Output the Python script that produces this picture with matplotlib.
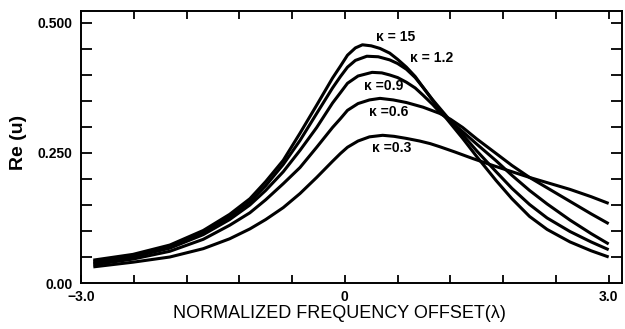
import numpy as np
import matplotlib.pyplot as plt
from matplotlib.ticker import FixedLocator, NullFormatter

plt.rcParams['font.family'] = ['Liberation Sans', 'DejaVu Sans']

# values, one pair of lists per kappa
x_k15 = [-2.86, -2.41, -1.99, -1.61, -1.31, -1.08, -0.90, -0.70, -0.51, -0.32, -0.14, -0.05, 0.03, 0.12, 0.20, 0.30, 0.40, 0.51, 0.60, 0.70, 0.80, 0.89, 1.00, 1.08, 1.20, 1.34, 1.50, 1.72, 1.90, 2.10, 2.30, 2.56, 2.80, 3.00]
y_k15 = [0.044, 0.055, 0.073, 0.101, 0.132, 0.162, 0.195, 0.236, 0.288, 0.342, 0.394, 0.417, 0.438, 0.452, 0.458, 0.456, 0.451, 0.442, 0.430, 0.415, 0.397, 0.376, 0.351, 0.332, 0.307, 0.278, 0.243, 0.197, 0.162, 0.128, 0.103, 0.079, 0.062, 0.050]

x_k12 = [-2.86, -2.41, -1.99, -1.61, -1.31, -1.08, -0.90, -0.70, -0.51, -0.32, -0.14, -0.05, 0.03, 0.12, 0.25, 0.38, 0.51, 0.60, 0.70, 0.80, 0.89, 1.00, 1.08, 1.20, 1.34, 1.50, 1.72, 1.90, 2.10, 2.30, 2.56, 2.80, 3.00]
y_k12 = [0.041, 0.052, 0.070, 0.097, 0.127, 0.156, 0.187, 0.228, 0.274, 0.326, 0.375, 0.397, 0.415, 0.428, 0.436, 0.435, 0.429, 0.422, 0.411, 0.395, 0.376, 0.352, 0.336, 0.312, 0.285, 0.254, 0.214, 0.182, 0.151, 0.125, 0.099, 0.079, 0.064]

x_k09 = [-2.86, -2.41, -1.99, -1.61, -1.31, -1.08, -0.90, -0.70, -0.51, -0.32, -0.14, -0.05, 0.03, 0.15, 0.31, 0.42, 0.51, 0.60, 0.70, 0.80, 0.89, 1.00, 1.08, 1.20, 1.34, 1.50, 1.72, 1.90, 2.10, 2.30, 2.56, 2.80, 3.00]
y_k09 = [0.038, 0.050, 0.067, 0.093, 0.122, 0.150, 0.178, 0.214, 0.255, 0.299, 0.346, 0.366, 0.384, 0.398, 0.405, 0.404, 0.400, 0.395, 0.386, 0.375, 0.361, 0.343, 0.328, 0.311, 0.291, 0.267, 0.235, 0.207, 0.178, 0.152, 0.121, 0.095, 0.075]

x_k06 = [-2.86, -2.41, -1.99, -1.61, -1.31, -1.08, -0.90, -0.70, -0.51, -0.32, -0.14, -0.05, 0.03, 0.15, 0.28, 0.40, 0.55, 0.70, 0.89, 1.08, 1.20, 1.34, 1.50, 1.72, 1.90, 2.10, 2.30, 2.56, 2.80, 3.00]
y_k06 = [0.035, 0.046, 0.061, 0.084, 0.111, 0.135, 0.160, 0.191, 0.222, 0.261, 0.299, 0.316, 0.332, 0.345, 0.352, 0.355, 0.352, 0.347, 0.338, 0.326, 0.315, 0.299, 0.277, 0.249, 0.226, 0.203, 0.183, 0.157, 0.133, 0.114]

x_k03 = [-2.86, -2.41, -1.99, -1.61, -1.31, -1.08, -0.90, -0.70, -0.51, -0.32, -0.14, -0.05, 0.03, 0.15, 0.28, 0.43, 0.56, 0.70, 0.85, 0.97, 1.08, 1.25, 1.46, 1.70, 1.90, 2.10, 2.30, 2.56, 2.80, 3.00]
y_k03 = [0.031, 0.040, 0.050, 0.066, 0.085, 0.104, 0.122, 0.145, 0.172, 0.203, 0.234, 0.249, 0.261, 0.273, 0.281, 0.284, 0.282, 0.278, 0.273, 0.268, 0.262, 0.252, 0.239, 0.225, 0.214, 0.203, 0.193, 0.180, 0.166, 0.153]

curves = [(x_k15, y_k15), (x_k12, y_k12), (x_k09, y_k09), (x_k06, y_k06), (x_k03, y_k03)]

labels = ['\u03ba = 15', '\u03ba = 1.2', '\u03ba =0.9', '\u03ba =0.6', '\u03ba =0.3']
label_x = [0.35, 0.74, 0.22, 0.28, 0.31]
label_y = [0.473, 0.432, 0.378, 0.329, 0.259]

xticks = [-3.0, -2.4, -1.8, -1.2, -0.6, 0.0, 0.6, 1.2, 1.8, 2.4, 3.0]
xticklabels = ['\u22123.0', '', '', '', '', '0', '', '', '', '', '3.0']
yticks = [0.0, 0.25, 0.5]
yticklabels = ['0.00', '0.250', '0.500']
yminor = [0.05, 0.1, 0.15, 0.2, 0.3, 0.35, 0.4, 0.45]

fig = plt.figure(figsize=(6.25, 3.29), dpi=100)
ax = fig.add_axes([0.1296, 0.1398, 0.8654, 0.8268])

for xs, ys in curves:
    ax.plot(xs, ys, color='black', lw=2.2, solid_joinstyle='round', solid_capstyle='butt')

for t, lx, ly in zip(labels, label_x, label_y):
    ax.text(lx, ly, t, fontsize=10, fontweight='bold', ha='left', va='center')

ax.set_xlim(-3.0, 3.15)
ax.set_ylim(0.0, 0.523)

ax.xaxis.set_major_locator(FixedLocator(xticks))
ax.set_xticklabels(xticklabels)
ax.yaxis.set_major_locator(FixedLocator(yticks))
ax.set_yticklabels(yticklabels)
ax.yaxis.set_minor_locator(FixedLocator(yminor))
ax.yaxis.set_minor_formatter(NullFormatter())

ax.tick_params(axis='both', which='both', direction='in', top=True, right=True,
               width=1.3, colors='black')
ax.tick_params(axis='x', which='major', length=6, pad=5, labelsize=10)
ax.tick_params(axis='y', which='major', length=8, pad=6, labelsize=10)
ax.tick_params(axis='y', which='minor', length=8)
for lab in ax.get_xticklabels() + ax.get_yticklabels():
    lab.set_fontweight('bold')
ax.yaxis.get_major_ticks()[0].tick1line.set_visible(False)
ax.yaxis.get_major_ticks()[0].tick2line.set_visible(False)

for s in ax.spines.values():
    s.set_linewidth(1.4)

ax.set_xlabel('NORMALIZED FREQUENCY OFFSET(\u03bb)', fontsize=13)
ax.xaxis.set_label_coords(0.477, -0.08)
ax.set_ylabel('Re (u)', fontsize=14, fontweight='bold')
ax.yaxis.set_label_coords(-0.1, 0.518)

fig.savefig('out.png', dpi=100)
